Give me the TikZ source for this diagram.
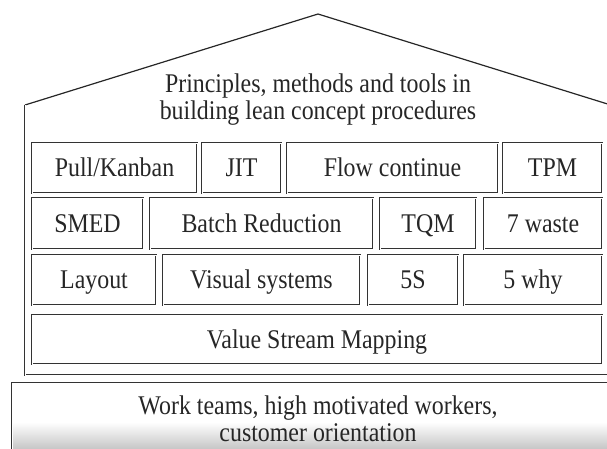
\documentclass[tikz,border=0pt]{standalone}
\usepackage{fontspec}
\setmainfont{Liberation Serif}
\newfontfamily\tallserif[FakeStretch=0.885]{Liberation Serif}
\begin{document}
\begin{tikzpicture}[x=1pt,y=-1pt,
  cell/.style={draw=black!80, double=white, double distance=0.9pt, line width=0.55pt,
    inner sep=0pt, outer sep=0pt, text=black!85, text height=20pt, text depth=3pt,
    font=\tallserif\fontsize{27}{28}\selectfont},
  wall/.style={draw=black!80, double=white, double distance=0.9pt, line width=0.55pt},
  lbl/.style={align=center, text=black!85, font=\tallserif\fontsize{27}{27}\selectfont}]
\useasboundingbox (0,0) rectangle (607,448);
\clip (0,0) rectangle (607,448);
% house
\draw[black!85, line width=1.2pt] (25,105) -- (318,14) -- (614,106);
\draw[wall] (25,105) -- (25,375) -- (616,375) -- (616,106);
\node[lbl] (title) at (318,100) {Principles, methods and tools in\\building lean concept procedures};
% row 1
\node[cell, minimum width=165, minimum height=50] (pull) at (114.5,168) {Pull/Kanban};
\node[cell, minimum width=79, minimum height=50] (jit) at (241.5,168) {JIT};
\node[cell, minimum width=211, minimum height=50] (flow) at (392.5,168) {Flow continue};
\node[cell, minimum width=99, minimum height=50] (tpm) at (552.5,168) {TPM};
% row 2
\node[cell, minimum width=111, minimum height=51] (smed) at (87.5,223.5) {SMED};
\node[cell, minimum width=223, minimum height=51] (batch) at (261.5,223.5) {Batch Reduction};
\node[cell, minimum width=96, minimum height=51] (tqm) at (428,223.5) {TQM};
\node[cell, minimum width=118, minimum height=51] (waste) at (543,223.5) {7 waste};
% row 3
\node[cell, minimum width=124, minimum height=50] (layout) at (94,280) {Layout};
\node[cell, minimum width=197, minimum height=50] (visual) at (261.5,280) {Visual systems};
\node[cell, minimum width=90, minimum height=50] (fives) at (413,280) {5S};
\node[cell, minimum width=138, minimum height=50] (fivewhy) at (533,280) {5 why};
% VSM
\node[cell, minimum width=570, minimum height=49] (vsm) at (317,339.5) {Value Stream Mapping};
% foundation
\shade[top color=white, bottom color=black!25] (12,422) rectangle (615,452);
\draw[wall] (12,455) -- (12,383) -- (615,383);
\node[lbl] (base) at (318,419) {Work teams, high motivated workers,\\customer orientation};
\end{tikzpicture}
\end{document}
